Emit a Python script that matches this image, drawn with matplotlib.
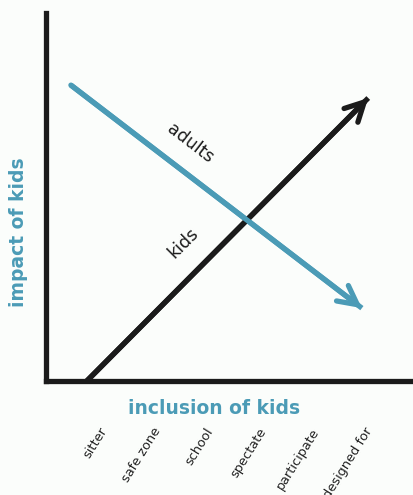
import matplotlib.pyplot as plt

# stages of inclusion along the x axis
stages = ['sitter', 'safe zone', 'school', 'spectate', 'participate', 'designed for']
stage_pos = [1, 2, 3, 4, 5, 6]

# the two trend lines (start, end) in chart units
kids_x = [0.77, 6.08]
kids_y = [0.0, 7.69]
adults_x = [0.47, 5.96]
adults_y = [8.04, 1.98]

blue = '#4b9bb6'
dark = '#1b1b1b'
bg = '#fbfdfb'

fig = plt.figure(figsize=(4.14, 4.95), dpi=100, facecolor=bg)
ax = fig.add_axes([46/414, 114/495, 368/414, 368/495])
ax.set_facecolor(bg)
ax.set_xlim(0, 368/53)
ax.set_ylim(0, 10)

for s in ['top', 'right']:
    ax.spines[s].set_visible(False)
for s in ['left', 'bottom']:
    ax.spines[s].set_linewidth(3.8)
    ax.spines[s].set_color(dark)
    ax.spines[s].set_capstyle('projecting')

ax.set_yticks([])
ax.set_xticks(stage_pos)
ax.set_xticklabels(stages, rotation=58, ha='right', rotation_mode='anchor',
                   fontsize=9.3, color='#222222', family='DejaVu Sans')
ax.tick_params(axis='x', length=0, pad=32)

ax.set_xlabel('inclusion of kids', fontsize=13.5, fontweight='bold', color=blue, family='DejaVu Sans')
ax.xaxis.set_label_coords(0.457, -0.048)
ax.set_ylabel('impact of kids', fontsize=13.5, fontweight='bold', color=blue, family='DejaVu Sans')
ax.yaxis.set_label_coords(-0.05, 0.405)

def arrow(xs, ys, color):
    ax.plot(xs, ys, color=color, lw=3.8, solid_capstyle='butt', clip_on=False)
    ax.annotate('', xy=(xs[1], ys[1]), xytext=(xs[0], ys[0]),
                arrowprops=dict(arrowstyle='->, head_length=1.35, head_width=0.7',
                                color=color, lw=3.8, capstyle='round', joinstyle='round',
                                shrinkA=0, shrinkB=0))

arrow(kids_x, kids_y, dark)
arrow(adults_x, adults_y, blue)

ax.text(2.72, 6.45, 'adults', rotation=-37.5, fontsize=12.5, color=dark,
        family='DejaVu Sans', ha='center', va='center', rotation_mode='anchor')
ax.text(2.6, 3.75, 'kids', rotation=45, fontsize=12.5, color=dark,
        family='DejaVu Sans', ha='center', va='center', rotation_mode='anchor')

fig.savefig('out.png', dpi=100, facecolor=bg)
